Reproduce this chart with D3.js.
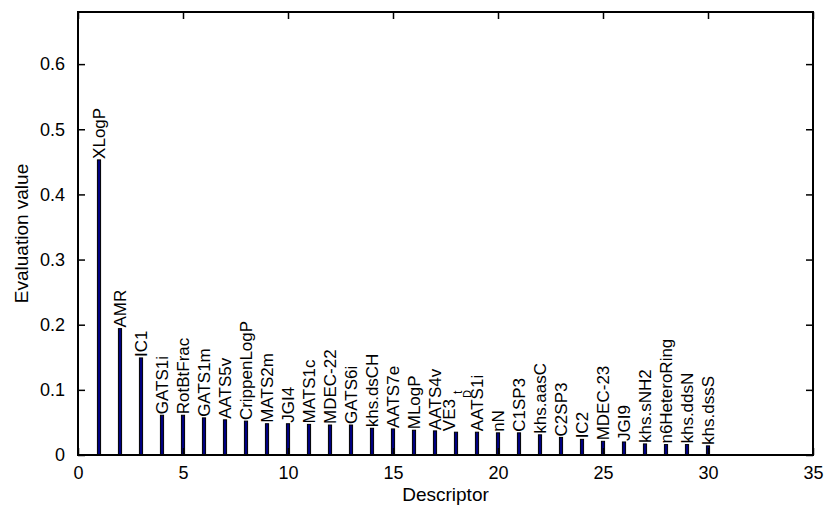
<!DOCTYPE html>
<html>
<head>
<meta charset="utf-8">
<script src="https://cdn.jsdelivr.net/npm/d3@7"></script>
<style>
  html, body { margin: 0; padding: 0; background: #fff; }
  svg text { font-family: "Liberation Sans", Arial, Helvetica, sans-serif; fill: #000; }
</style>
</head>
<body>
<div id="chart"></div>
<script>
"use strict";

// descriptor names, in rank order (1..30)
const descriptors = [
  'XLogP', 'AMR', 'IC1', 'GATS1i', 'RotBtFrac', 'GATS1m', 'AATS5v', 'CrippenLogP',
  'MATS2m', 'JGI4', 'MATS1c', 'MDEC-22', 'GATS6i', 'khs.dsCH', 'AATS7e', 'MLogP',
  'AATS4v', 'VE3_D_t', 'AATS1i', 'nN', 'C1SP3', 'khs.aasC', 'C2SP3', 'IC2',
  'MDEC-23', 'JGI9', 'khs.sNH2', 'n6HeteroRing', 'khs.ddsN', 'khs.dssS'
]

// evaluation value of each descriptor
const values = [
  0.453, 0.194, 0.149, 0.061, 0.061, 0.057, 0.054, 0.052,
  0.048, 0.048, 0.047, 0.046, 0.046, 0.041, 0.040, 0.038,
  0.037, 0.035, 0.035, 0.034, 0.034, 0.031, 0.027, 0.024,
  0.021, 0.020, 0.017, 0.016, 0.016, 0.014
]

const xTicks = [0, 5, 10, 15, 20, 25, 30, 35]
const yTicks = [0, 0.1, 0.2, 0.3, 0.4, 0.5, 0.6]

const W = 824, H = 506
const m = { top: 12, right: 11, bottom: 51, left: 78 }
const TICK = 7

const svg = d3.select('#chart')
  .append('svg')
    .attr('width', W)
    .attr('height', H)

const g = svg.append('g')
  .attr('transform', `translate(${m.left},${m.top})`)

const width = W - m.left - m.right
    , height = H - m.top - m.bottom

const x = d3.scaleLinear().domain([0, 35]).range([0, width])
const y = d3.scaleLinear().domain([0, 0.68]).range([height, 0])

const data = descriptors.map((name, i) => ({ name, idx: i + 1, value: values[i] }))

// bars: very narrow, navy fill with black edge
const barW = x(0.15) - x(0)

g.append('g')
  .selectAll('rect')
  .data(data)
  .enter()
  .append('rect')
    .attr('x', d => x(d.idx) - barW / 2)
    .attr('y', d => y(d.value))
    .attr('width', barW)
    .attr('height', d => height - y(d.value))
    .attr('fill', '#000080')
    .attr('stroke', '#000')
    .attr('stroke-width', 1)

// rotated labels sitting on top of each bar
const labels = g.append('g')
  .selectAll('text')
  .data(data)
  .enter()
  .append('text')
    .attr('transform', d => `translate(${x(d.idx)},${y(d.value) - 1}) rotate(-90)`)
    .attr('dy', d => d.name.includes('_') ? '-0.05em' : '0.35em')
    .attr('font-size', 17)

// names with '_' are drawn TeX style: the parts after it sit lower and smaller
labels.each(function(d) {
  const parts = d.name.split('_')
  const t = d3.select(this)
  t.append('tspan').text(parts[0])
  if (parts.length > 1) {
    t.append('tspan')
      .attr('font-size', 11)
      .attr('dx', 1)
      .attr('dy', 16)
      .text(parts[1])
    t.append('tspan')
      .attr('font-size', 12)
      .attr('dx', -4)
      .attr('dy', -9)
      .text(parts[2])
  }
})

// axes, MATLAB style: box with inward ticks on all four sides
const axB = d3.axisBottom(x).tickValues(xTicks).tickSizeInner(-TICK).tickSizeOuter(0).tickPadding(11)
const axT = d3.axisTop(x).tickValues(xTicks).tickSizeInner(-TICK).tickSizeOuter(0).tickFormat('')
const axL = d3.axisLeft(y).tickValues(yTicks).tickSizeInner(-TICK).tickSizeOuter(0).tickPadding(13)
  .tickFormat(d => d === 0 ? '0' : d3.format('.1f')(d))
const axR = d3.axisRight(y).tickValues(yTicks).tickSizeInner(-TICK).tickSizeOuter(0).tickFormat('')

const styleAxis = sel => {
  sel.select('.domain').remove()
  sel.selectAll('line').attr('stroke', '#000').attr('stroke-width', 1.5)
  sel.selectAll('text')
    .attr('font-size', 18)
    .attr('font-family', '"Liberation Sans", Arial, Helvetica, sans-serif')
    .attr('fill', '#000')
}

g.append('g').attr('transform', `translate(0,${height})`).call(axB).call(styleAxis)
g.append('g').call(axT).call(styleAxis)
g.append('g').call(axL).call(styleAxis)
g.append('g').attr('transform', `translate(${width},0)`).call(axR).call(styleAxis)

g.append('rect')
  .attr('x', 0)
  .attr('y', 0)
  .attr('width', width)
  .attr('height', height)
  .attr('fill', 'none')
  .attr('stroke', '#000')
  .attr('stroke-width', 2)

// axis titles
g.append('text')
  .attr('x', width / 2)
  .attr('y', height + 46)
  .attr('text-anchor', 'middle')
  .attr('font-size', 19)
  .text('Descriptor')

g.append('text')
  .attr('transform', `translate(${28 - m.left},${height / 2}) rotate(-90)`)
  .attr('text-anchor', 'middle')
  .attr('font-size', 19)
  .text('Evaluation value')
</script>
</body>
</html>
